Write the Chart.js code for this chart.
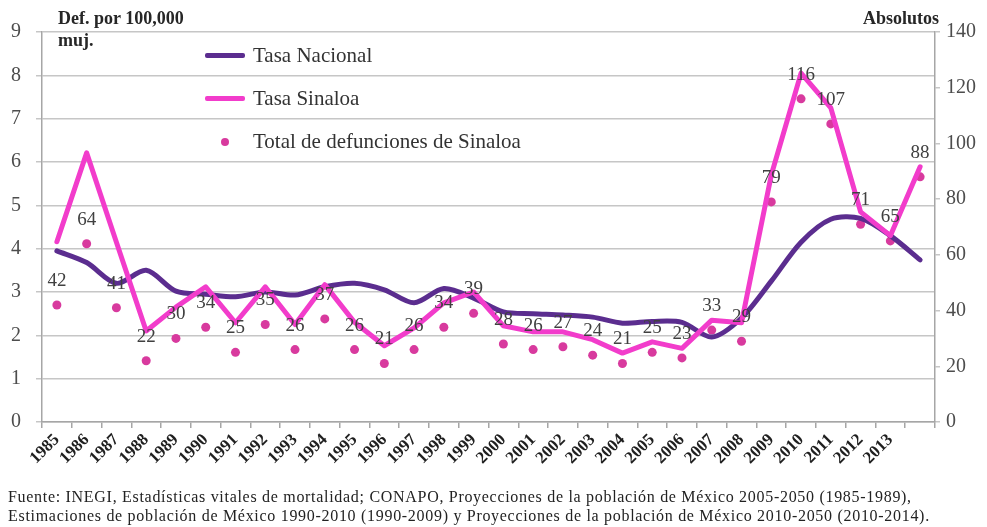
<!DOCTYPE html>
<html>
<head>
<meta charset="utf-8">
<title>Defunciones Sinaloa</title>
<script src="https://cdn.jsdelivr.net/npm/chart.js@4.4.1/dist/chart.umd.min.js"></script>
<style>
  html, body { margin: 0; padding: 0; background: #fff; }
  #wrap { position: relative; width: 987px; height: 527px; overflow: hidden;
          font-family: "Liberation Serif", "Times New Roman", serif; }
  #chart { position: absolute; left: 0; top: 0; }
  .axis-title { position: absolute; font-weight: bold; font-size: 18px; line-height: 22px; color: #262626; }
  #legend { position: absolute; left: 205px; top: 34px; }
  .row { height: 43px; display: flex; align-items: center; font-size: 21px; color: #333; white-space: nowrap; }
  .swatch { width: 40px; height: 5px; margin-right: 8px; border-radius: 2px; }
  .dotwrap { width: 40px; margin-right: 8px; display: flex; justify-content: center; }
  .dot { width: 8px; height: 8px; border-radius: 50%; }
  #note { position: absolute; left: 8px; top: 487px; font-size: 16px; letter-spacing: 0.7px; line-height: 19px; color: #222; white-space: nowrap; }
</style>
</head>
<body>
<div id="wrap">
  <canvas id="chart" width="987" height="490"></canvas>
  <div class="axis-title" style="left:58px; top:7px;">Def. por 100,000<br>muj.</div>
  <div class="axis-title" style="right:48px; top:7px;">Absolutos</div>
  <div id="legend"></div>
  <div id="note">Fuente: INEGI, Estadísticas vitales de mortalidad; CONAPO, Proyecciones de la población de México 2005-2050 (1985-1989),<br>Estimaciones de población de México 1990-2010 (1990-2009) y Proyecciones de la población de México 2010-2050 (2010-2014).</div>
</div>
<script>
// Years covered by the series
const years = ["1985","1986","1987","1988","1989","1990","1991","1992","1993","1994",
               "1995","1996","1997","1998","1999","2000","2001","2002","2003","2004",
               "2005","2006","2007","2008","2009","2010","2011","2012","2013","2014"];

// Rate per 100,000 women, national
const tasaNacional = [3.95, 3.68, 3.2, 3.5, 3.02, 2.95, 2.89, 3.0, 2.93, 3.12,
                      3.2, 3.05, 2.75, 3.08, 2.86, 2.54, 2.5, 2.47, 2.42, 2.28,
                      2.32, 2.3, 1.96, 2.4, 3.25, 4.15, 4.68, 4.7, 4.3, 3.74];

// Rate per 100,000 women, Sinaloa
const tasaSinaloa = [4.16, 6.21, 4.15, 2.1, 2.65, 3.12, 2.29, 3.12, 2.25, 3.17,
                     2.3, 1.76, 2.17, 2.75, 3.0, 2.22, 2.08, 2.08, 1.9, 1.59,
                     1.85, 1.7, 2.35, 2.29, 5.7, 8.05, 7.25, 4.85, 4.3, 5.89];

// Absolute number of deaths in Sinaloa
const totalSinaloa = [42, 64, 41, 22, 30, 34, 25, 35, 26, 37,
                      26, 21, 26, 34, 39, 28, 26, 27, 24, 21,
                      25, 23, 33, 29, 79, 116, 107, 71, 65, 88];

// Axis ticks
const leftTicks = { min: 0, max: 9, step: 1 };
const rightTicks = { min: 0, max: 140, step: 20 };

const SERIF = '"Liberation Serif", "Times New Roman", serif';
const PURPLE = '#5b2d8f';
const PINK = '#f23ccb';
const DOT = '#d83a9e';

// Writes the death count above each point of the "total" series
const valueLabels = {
  id: 'valueLabels',
  afterDatasetsDraw(chart) {
    const i = chart.data.datasets.findIndex(d => d.isTotal);
    const meta = chart.getDatasetMeta(i);
    const data = chart.data.datasets[i].data;
    const ctx = chart.ctx;
    ctx.save();
    ctx.font = '19px ' + SERIF;
    ctx.fillStyle = '#404040';
    ctx.textAlign = 'center';
    ctx.textBaseline = 'middle';
    meta.data.forEach((pt, k) => {
      ctx.fillText(String(data[k]), pt.x, pt.y - 24);
    });
    ctx.restore();
  }
};

// Legend drawn as HTML rows, built from the datasets
const htmlLegend = {
  id: 'htmlLegend',
  afterUpdate(chart) {
    const box = document.getElementById('legend');
    box.innerHTML = '';
    chart.data.datasets.forEach(ds => {
      const row = document.createElement('div');
      row.className = 'row';
      if (ds.showLine === false) {
        const w = document.createElement('div');
        w.className = 'dotwrap';
        const d = document.createElement('div');
        d.className = 'dot';
        d.style.background = ds.pointBackgroundColor;
        w.appendChild(d);
        row.appendChild(w);
      } else {
        const s = document.createElement('div');
        s.className = 'swatch';
        s.style.background = ds.borderColor;
        row.appendChild(s);
      }
      const t = document.createElement('span');
      t.textContent = ds.label;
      row.appendChild(t);
      box.appendChild(row);
    });
  }
};

new Chart(document.getElementById('chart'), {
  type: 'line',
  data: {
    labels: years,
    datasets: [
      {
        label: 'Tasa Nacional',
        data: tasaNacional,
        yAxisID: 'y',
        borderColor: PURPLE,
        backgroundColor: PURPLE,
        borderWidth: 5,
        tension: 0.3,
        pointRadius: 0,
        borderCapStyle: 'round',
        borderJoinStyle: 'round',
        order: 2
      },
      {
        label: 'Tasa Sinaloa',
        data: tasaSinaloa,
        yAxisID: 'y',
        borderColor: PINK,
        backgroundColor: PINK,
        borderWidth: 5,
        tension: 0,
        pointRadius: 0,
        borderCapStyle: 'round',
        borderJoinStyle: 'round',
        order: 1
      },
      {
        label: 'Total de defunciones de Sinaloa',
        isTotal: true,
        data: totalSinaloa,
        yAxisID: 'y1',
        showLine: false,
        pointRadius: 4.5,
        pointBorderWidth: 0,
        pointBackgroundColor: DOT,
        pointBorderColor: DOT,
        borderColor: DOT,
        order: 3
      }
    ]
  },
  options: {
    responsive: false,
    devicePixelRatio: 1,
    animation: false,
    layout: { padding: { top: 32, left: 0, right: 0, bottom: 0 } },
    plugins: {
      legend: { display: false },
      tooltip: { enabled: false }
    },
    scales: {
      x: {
        type: 'category',
        offset: true,
        grid: { display: true, offset: true, drawOnChartArea: false, tickLength: 6, color: '#a6a6a6', lineWidth: 1.5 },
        border: { color: '#a6a6a6', width: 1.5 },
        ticks: {
          autoSkip: false, minRotation: 45, maxRotation: 45, padding: 2,
          color: '#1f1f1f', font: { family: SERIF, size: 17, weight: 'bold' },
          callback(v, i) { return i === years.length - 1 ? '' : this.getLabelForValue(v); }
        },
        afterFit(s) { s.height = 68; }
      },
      y: {
        position: 'left',
        min: leftTicks.min, max: leftTicks.max,
        grid: { color: '#c6c6c6', lineWidth: 1.5, tickLength: 6 },
        border: { color: '#a6a6a6', width: 1.5 },
        ticks: { stepSize: leftTicks.step, padding: 15, color: '#4d4d4d', font: { family: SERIF, size: 20 } },
        afterFit(s) { s.width = 42; }
      },
      y1: {
        position: 'right',
        min: rightTicks.min, max: rightTicks.max,
        grid: { drawOnChartArea: false, color: '#c6c6c6', lineWidth: 1.5, tickLength: 5 },
        border: { color: '#a6a6a6', width: 1.5 },
        ticks: { stepSize: rightTicks.step, padding: 6, color: '#4d4d4d', font: { family: SERIF, size: 20 } },
        afterFit(s) { s.width = 52; }
      }
    }
  },
  plugins: [valueLabels, htmlLegend]
});
</script>
</body>
</html>
